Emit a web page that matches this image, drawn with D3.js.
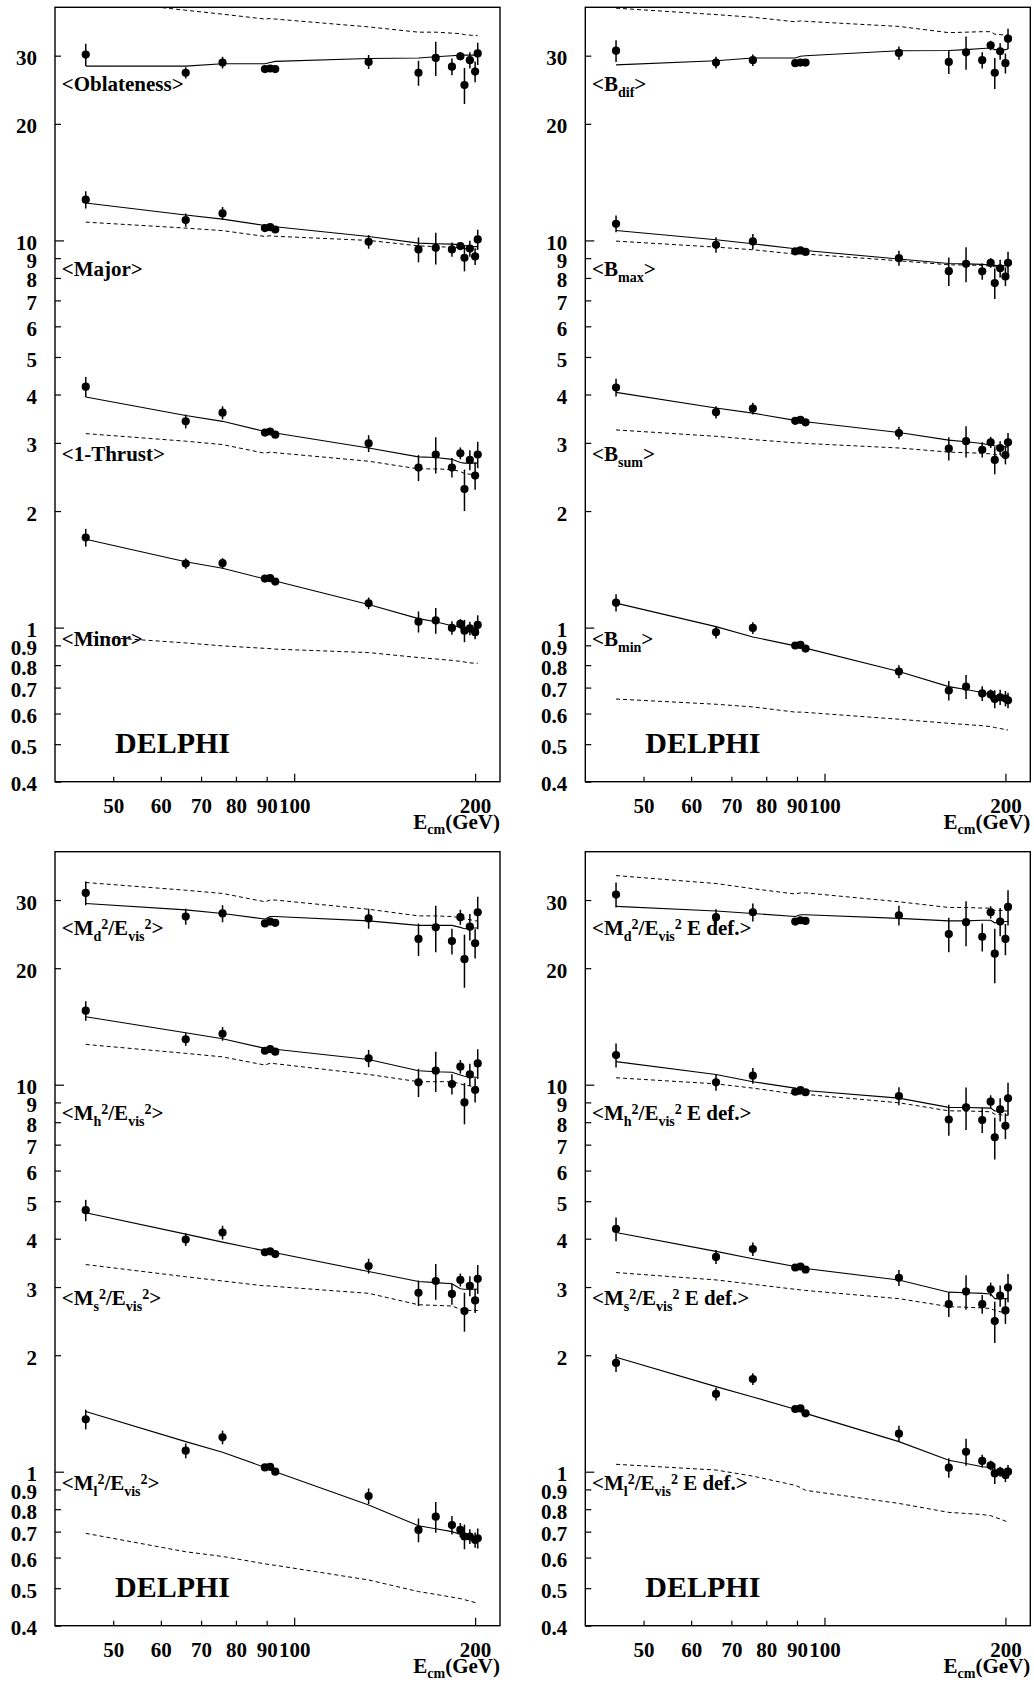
<!DOCTYPE html>
<html><head><meta charset="utf-8">
<script src="https://cdn.jsdelivr.net/npm/d3@7"></script>
<style>
html,body{margin:0;padding:0;background:#fff;}
svg{display:block;}
text{font-family:"Liberation Serif","Times New Roman",serif;font-weight:bold;}
</style></head>
<body>
<svg id="chart" width="1034" height="1682"></svg>
<script>
// ---------------- DATA ----------------
const energies = [45, 66, 76, 89.4, 91.2, 93, 133, 161, 172, 183, 189, 192, 196, 200, 202];
const xTicks = [50, 60, 70, 80, 90, 100, 200];
const xMajor = [100, 200];
const yTicks = [0.4, 0.5, 0.6, 0.7, 0.8, 0.9, 1, 2, 3, 4, 5, 6, 7, 8, 9, 10, 20, 30];
const yMajor = [1, 10];

// <Oblateness>
const oblatenessMean = [30.2, 27.1, 28.8, 27.7, 27.8, 27.7, 28.9, 27.1, 29.6, 28.1, 29.9, 25.2, 29.2, 27.3, 30.4];
const oblatenessErr  = [2.0, 0.9, 1.0, 0.3, 0.3, 0.3, 1.2, 2.0, 3.0, 1.4, 0.7, 2.7, 1.4, 1.7, 2.0];
const oblatenessFit  = [28.2, 28.2, 28.6, 28.6, 28.8, 29.0, 29.5, 29.6, 29.8, 30.0, 30.1, 30.1, 30.1, 30.1, 30.1];
const oblatenessRef  = [42.0, 39.3, 38.4, 37.3, 37.4, 37.3, 35.6, 34.5, 34.5, 34.3, 34.2, 34.0, 33.9, 33.8, 33.8];
// <Major>
const majorMean = [12.74, 11.29, 11.74, 10.76, 10.82, 10.67, 9.92, 9.48, 9.57, 9.48, 9.67, 9.02, 9.53, 9.09, 10.06];
const majorErr  = [0.65, 0.45, 0.45, 0.12, 0.12, 0.12, 0.4, 0.7, 0.9, 0.4, 0.22, 0.7, 0.45, 0.45, 0.6];
const majorFit  = [12.49, 11.63, 11.35, 10.93, 10.90, 10.85, 10.24, 9.84, 9.80, 9.78, 9.74, 9.70, 9.66, 9.64, 9.64];
const majorRef  = [11.15, 10.76, 10.60, 10.24, 10.28, 10.25, 10.0, 9.68, 9.64, 9.60, 9.57, 9.53, 9.50, 9.49, 9.49];
// <1-Thrust>
const thrustMean = [4.19, 3.41, 3.59, 3.19, 3.21, 3.15, 2.99, 2.59, 2.80, 2.59, 2.82, 2.28, 2.71, 2.47, 2.80];
const thrustErr  = [0.25, 0.14, 0.14, 0.04, 0.04, 0.04, 0.15, 0.2, 0.3, 0.15, 0.1, 0.28, 0.16, 0.2, 0.22];
const thrustFit  = [3.94, 3.53, 3.41, 3.21, 3.20, 3.18, 2.91, 2.76, 2.75, 2.72, 2.67, 2.66, 2.66, 2.66, 2.66];
const thrustRef  = [3.17, 3.03, 2.97, 2.82, 2.84, 2.83, 2.69, 2.57, 2.57, 2.56, 2.53, 2.50, 2.49, 2.49, 2.49];
// <Minor>
const minorMean = [1.709, 1.464, 1.467, 1.339, 1.342, 1.315, 1.156, 1.036, 1.044, 0.998, 1.022, 0.982, 0.995, 0.973, 1.016];
const minorErr  = [0.09, 0.045, 0.045, 0.015, 0.015, 0.015, 0.04, 0.065, 0.08, 0.04, 0.03, 0.065, 0.04, 0.04, 0.06];
const minorFit  = [1.692, 1.48, 1.423, 1.335, 1.33, 1.32, 1.148, 1.055, 1.035, 1.011, 1.003, 0.999, 0.997, 0.995, 0.995];
const minorRef  = [0.951, 0.913, 0.897, 0.884, 0.883, 0.880, 0.862, 0.837, 0.830, 0.823, 0.818, 0.815, 0.811, 0.809, 0.809];
// <B_dif>
const bdifMean = [30.9, 28.8, 29.2, 28.7, 28.8, 28.8, 30.5, 28.9, 30.6, 29.2, 31.9, 27.1, 30.8, 28.7, 33.2];
const bdifErr  = [2.0, 1.0, 1.0, 0.3, 0.3, 0.3, 1.2, 2.0, 3.0, 1.4, 0.9, 2.5, 1.5, 1.7, 2.0];
const bdifFit  = [28.4, 29.1, 29.6, 29.6, 29.9, 30.0, 30.9, 30.95, 31.1, 31.3, 31.4, 31.1, 31.1, 31.1, 31.2];
const bdifRef  = [39.8, 38.3, 37.7, 36.7, 36.9, 36.8, 35.7, 34.4, 34.5, 34.6, 34.6, 34.1, 34.0, 33.9, 33.9];
// <B_max>
const bmaxMean = [11.04, 9.74, 9.94, 9.37, 9.42, 9.34, 9.00, 8.33, 8.70, 8.32, 8.75, 7.76, 8.47, 8.07, 8.75];
const bmaxErr  = [0.55, 0.45, 0.45, 0.1, 0.1, 0.1, 0.4, 0.7, 0.9, 0.4, 0.25, 0.7, 0.45, 0.45, 0.6];
const bmaxFit  = [10.61, 10.04, 9.80, 9.52, 9.47, 9.42, 8.95, 8.72, 8.70, 8.67, 8.64, 8.62, 8.60, 8.60, 8.60];
const bmaxRef  = [9.96, 9.61, 9.46, 9.22, 9.24, 9.22, 8.86, 8.65, 8.64, 8.62, 8.58, 8.55, 8.51, 8.49, 8.49];
// <B_sum>
const bsumMean = [4.17, 3.60, 3.68, 3.42, 3.44, 3.39, 3.18, 2.90, 3.03, 2.88, 3.01, 2.71, 2.91, 2.79, 3.01];
const bsumErr  = [0.22, 0.13, 0.13, 0.04, 0.04, 0.04, 0.12, 0.2, 0.28, 0.13, 0.1, 0.22, 0.12, 0.15, 0.17];
const bsumFit  = [4.05, 3.69, 3.58, 3.43, 3.42, 3.40, 3.19, 3.05, 3.02, 2.99, 2.96, 2.95, 2.94, 2.93, 2.93];
const bsumRef  = [3.24, 3.12, 3.06, 3.00, 3.00, 2.99, 2.91, 2.84, 2.83, 2.82, 2.81, 2.80, 2.78, 2.77, 2.77];
// <B_min>
const bminMean = [1.16, 0.973, 0.998, 0.899, 0.902, 0.883, 0.770, 0.688, 0.704, 0.676, 0.672, 0.654, 0.661, 0.656, 0.649];
const bminErr  = [0.06, 0.035, 0.035, 0.012, 0.012, 0.012, 0.03, 0.04, 0.05, 0.03, 0.02, 0.035, 0.03, 0.03, 0.03];
const bminFit  = [1.157, 1.006, 0.946, 0.897, 0.89, 0.885, 0.770, 0.704, 0.692, 0.680, 0.672, 0.666, 0.660, 0.652, 0.648];
const bminRef  = [0.654, 0.634, 0.624, 0.605, 0.605, 0.604, 0.580, 0.566, 0.562, 0.558, 0.555, 0.552, 0.549, 0.545, 0.544];
// <M_d^2/E_vis^2>
const mdMean = [31.3, 27.2, 27.7, 26.1, 26.4, 26.2, 26.9, 23.8, 25.5, 23.5, 27.1, 21.1, 25.6, 23.2, 27.9];
const mdErr  = [2.2, 1.3, 1.4, 0.4, 0.4, 0.4, 1.6, 2.3, 3.5, 1.8, 1.2, 3.3, 2.0, 2.0, 2.7];
const mdFit  = [29.4, 28.3, 27.7, 26.8, 27.2, 27.2, 26.5, 25.8, 25.8, 25.8, 25.5, 25.3, 25.4, 25.4, 25.4];
const mdRef  = [33.3, 31.8, 31.2, 29.7, 30.0, 30.0, 28.4, 27.3, 27.3, 27.2, 27.0, 26.8, 26.7, 26.5, 26.5];
// <M_h^2/E_vis^2>
const mhMean = [15.53, 13.10, 13.54, 12.24, 12.36, 12.17, 11.70, 10.14, 10.87, 10.04, 11.13, 9.00, 10.63, 9.69, 11.35];
const mhErr  = [0.9, 0.5, 0.55, 0.15, 0.15, 0.15, 0.6, 0.85, 1.3, 0.6, 0.45, 1.1, 0.7, 0.7, 1.0];
const mhFit  = [14.98, 13.62, 13.14, 12.41, 12.40, 12.35, 11.62, 10.87, 10.80, 10.77, 10.60, 10.52, 10.48, 10.45, 10.45];
const mhRef  = [12.71, 12.05, 11.80, 11.24, 11.36, 11.33, 10.63, 10.18, 10.18, 10.18, 10.05, 9.98, 9.93, 9.88, 9.88];
// <M_s^2/E_vis^2>
const msMean = [4.74, 3.98, 4.15, 3.69, 3.71, 3.65, 3.40, 2.90, 3.11, 2.88, 3.13, 2.60, 3.02, 2.77, 3.15];
const msErr  = [0.3, 0.15, 0.17, 0.05, 0.05, 0.05, 0.15, 0.22, 0.33, 0.18, 0.12, 0.3, 0.18, 0.2, 0.27];
const msFit  = [4.67, 4.11, 3.92, 3.72, 3.72, 3.68, 3.29, 3.10, 3.08, 3.06, 2.97, 2.96, 2.96, 2.96, 2.96];
const msRef  = [3.43, 3.19, 3.11, 3.02, 3.02, 3.01, 2.89, 2.70, 2.69, 2.68, 2.63, 2.62, 2.61, 2.61, 2.61];
// <M_l^2/E_vis^2>
const mlMean = [1.366, 1.133, 1.227, 1.026, 1.030, 1.0, 0.865, 0.707, 0.765, 0.728, 0.707, 0.680, 0.680, 0.666, 0.673];
const mlErr  = [0.08, 0.05, 0.05, 0.015, 0.015, 0.015, 0.04, 0.05, 0.07, 0.04, 0.03, 0.05, 0.03, 0.03, 0.04];
const mlFit  = [1.43, 1.196, 1.123, 1.026, 1.01, 1.0, 0.820, 0.725, 0.712, 0.70, 0.688, 0.682, 0.677, 0.673, 0.673];
const mlRef  = [0.693, 0.621, 0.604, 0.578, 0.575, 0.573, 0.525, 0.490, 0.482, 0.474, 0.470, 0.467, 0.463, 0.459, 0.459];
// <M_d^2/E_vis^2 E def.>
const mdEMean = [31.0, 27.1, 27.9, 26.4, 26.6, 26.5, 27.4, 24.5, 26.3, 24.1, 27.9, 21.8, 26.4, 23.8, 28.8];
const mdEErr  = [2.3, 1.3, 1.5, 0.4, 0.4, 0.4, 1.6, 2.5, 3.5, 2.0, 1.0, 3.5, 2.2, 2.2, 3.0];
const mdEFit  = [28.9, 28.1, 27.7, 27.2, 27.5, 27.5, 26.9, 26.5, 26.5, 26.6, 26.6, 26.2, 26.3, 26.4, 26.4];
const mdERef  = [34.7, 33.1, 32.1, 31.1, 31.3, 31.3, 29.7, 28.7, 28.7, 28.6, 28.6, 28.2, 28.2, 28.2, 28.2];
// <M_h^2/E_vis^2 E def.>
const mhEMean = [11.93, 10.14, 10.55, 9.59, 9.68, 9.56, 9.35, 8.13, 8.74, 8.10, 9.04, 7.31, 8.63, 7.83, 9.22];
const mhEErr  = [0.85, 0.5, 0.5, 0.12, 0.12, 0.12, 0.5, 0.75, 1.1, 0.6, 0.35, 0.9, 0.6, 0.6, 0.9];
const mhEFit  = [11.47, 10.63, 10.18, 9.80, 9.68, 9.66, 9.23, 8.74, 8.73, 8.71, 8.70, 8.55, 8.55, 8.55, 8.55];
const mhERef  = [10.42, 10.05, 9.80, 9.46, 9.45, 9.44, 8.98, 8.56, 8.55, 8.53, 8.51, 8.39, 8.36, 8.34, 8.34];
// <M_s^2/E_vis^2 E def.>
const msEMean = [4.24, 3.59, 3.76, 3.37, 3.39, 3.33, 3.17, 2.71, 2.92, 2.71, 2.96, 2.45, 2.85, 2.61, 2.99];
const msEErr  = [0.3, 0.15, 0.15, 0.05, 0.05, 0.05, 0.15, 0.2, 0.3, 0.15, 0.12, 0.3, 0.18, 0.2, 0.25];
const msEFit  = [4.15, 3.71, 3.55, 3.39, 3.37, 3.35, 3.13, 2.91, 2.90, 2.89, 2.88, 2.80, 2.80, 2.80, 2.80];
const msERef  = [3.27, 3.13, 3.05, 2.96, 2.95, 2.94, 2.80, 2.67, 2.66, 2.65, 2.64, 2.61, 2.59, 2.58, 2.58];
// <M_l^2/E_vis^2 E def.>
const mlEMean = [1.91, 1.588, 1.736, 1.452, 1.457, 1.415, 1.254, 1.024, 1.126, 1.066, 1.038, 0.990, 1.0, 0.98, 1.0];
const mlEErr  = [0.1, 0.06, 0.06, 0.02, 0.02, 0.02, 0.06, 0.06, 0.09, 0.04, 0.03, 0.06, 0.03, 0.04, 0.04];
const mlEFit  = [1.975, 1.659, 1.56, 1.45, 1.43, 1.415, 1.196, 1.07, 1.05, 1.03, 1.025, 1.005, 1.002, 1.0, 1.0];
const mlERef  = [1.045, 1.01, 0.974, 0.922, 0.91, 0.895, 0.828, 0.785, 0.78, 0.775, 0.77, 0.762, 0.755, 0.745, 0.740];

// labels (text segments; s = sub / sup)
const L = (t, s) => ({t, s});
const mdLabel = [L("<M"), L("d","sub"), L("2","sup"), L("/E"), L("vis","sub"), L("2","sup")];
const mhLabel = [L("<M"), L("h","sub"), L("2","sup"), L("/E"), L("vis","sub"), L("2","sup")];
const msLabel = [L("<M"), L("s","sub"), L("2","sup"), L("/E"), L("vis","sub"), L("2","sup")];
const mlLabel = [L("<M"), L("l","sub"), L("2","sup"), L("/E"), L("vis","sub"), L("2","sup")];

const panels = [
  {col:0, row:0, series:[
    {label:[L("<Oblateness>")], mean:oblatenessMean, err:oblatenessErr, fit:oblatenessFit, ref:oblatenessRef},
    {label:[L("<Major>")], mean:majorMean, err:majorErr, fit:majorFit, ref:majorRef},
    {label:[L("<1-Thrust>")], mean:thrustMean, err:thrustErr, fit:thrustFit, ref:thrustRef},
    {label:[L("<Minor>")], mean:minorMean, err:minorErr, fit:minorFit, ref:minorRef}]},
  {col:1, row:0, series:[
    {label:[L("<B"), L("dif","sub"), L(">")], mean:bdifMean, err:bdifErr, fit:bdifFit, ref:bdifRef},
    {label:[L("<B"), L("max","sub"), L(">")], mean:bmaxMean, err:bmaxErr, fit:bmaxFit, ref:bmaxRef},
    {label:[L("<B"), L("sum","sub"), L(">")], mean:bsumMean, err:bsumErr, fit:bsumFit, ref:bsumRef},
    {label:[L("<B"), L("min","sub"), L(">")], mean:bminMean, err:bminErr, fit:bminFit, ref:bminRef}]},
  {col:0, row:1, series:[
    {label:[...mdLabel, L(">")], mean:mdMean, err:mdErr, fit:mdFit, ref:mdRef},
    {label:[...mhLabel, L(">")], mean:mhMean, err:mhErr, fit:mhFit, ref:mhRef},
    {label:[...msLabel, L(">")], mean:msMean, err:msErr, fit:msFit, ref:msRef},
    {label:[...mlLabel, L(">")], mean:mlMean, err:mlErr, fit:mlFit, ref:mlRef}]},
  {col:1, row:1, series:[
    {label:[...mdLabel, L(" E def.>")], mean:mdEMean, err:mdEErr, fit:mdEFit, ref:mdERef},
    {label:[...mhLabel, L(" E def.>")], mean:mhEMean, err:mhEErr, fit:mhEFit, ref:mhERef},
    {label:[...msLabel, L(" E def.>")], mean:msEMean, err:msEErr, fit:msEFit, ref:msERef},
    {label:[...mlLabel, L(" E def.>")], mean:mlEMean, err:mlEErr, fit:mlEFit, ref:mlERef}]}
];

// ---------------- LAYOUT ----------------
const colX = [[55, 500], [585.3, 1030.3]];
const rowY = [[7.3, 781.7], [851.7, 1625.7]];
const labelOffsets = [83.4, 268.7, 453.7, 638.4];
const FONT = '"Liberation Serif","Times New Roman",serif';

const svg = d3.select("#chart");

function drawLabel(g, x, y, segs, size) {
  const t = g.append("text").attr("x", x).attr("y", y)
    .style("font-size", size + "px").style("white-space", "pre");
  let cur = 0;
  segs.forEach(s => {
    const off = s.s === "sub" ? 6 : (s.s === "sup" ? -6 : 0);
    t.append("tspan").attr("dy", off - cur)
      .style("font-size", (s.s ? 14 : size) + "px").text(s.t);
    cur = off;
  });
}

panels.forEach((p, pi) => {
  const [x0, x1] = colX[p.col];
  const [y0, y1] = rowY[p.row];
  const x = d3.scaleLog().domain([40, 220]).range([x0, x1]);
  const y = d3.scaleLog().domain([0.4, 40]).range([y1, y0]);
  const g = svg.append("g");

  const clipId = "clip" + pi;
  g.append("clipPath").attr("id", clipId).append("rect")
    .attr("x", x0).attr("y", y0).attr("width", x1 - x0).attr("height", y1 - y0);

  // y axis
  const ya = g.append("g").attr("transform", `translate(${x0},0)`)
    .call(d3.axisLeft(y).tickValues(yTicks).tickFormat(d => String(d))
      .tickSize(-6).tickSizeOuter(0).tickPadding(18));
  ya.select(".domain").remove();
  ya.attr("font-size", 21).attr("font-family", FONT).attr("font-weight", "bold");
  ya.selectAll(".tick line").attr("x2", d => yMajor.includes(d) ? 9 : 6).attr("stroke-width", 1.2);
  ya.selectAll(".tick text").attr("dy", "0.43em").attr("fill", "#000");

  // x axis
  const xa = g.append("g").attr("transform", `translate(0,${y1})`)
    .call(d3.axisBottom(x).tickValues(xTicks).tickFormat(d => String(d))
      .tickSize(-5).tickSizeOuter(0).tickPadding(16));
  xa.select(".domain").remove();
  xa.attr("font-size", 21).attr("font-family", FONT).attr("font-weight", "bold");
  xa.selectAll(".tick line").attr("y2", d => xMajor.includes(d) ? -8 : -5).attr("stroke-width", 1.2);
  xa.selectAll(".tick text").attr("fill", "#000");

  // frame
  g.append("rect").attr("x", x0).attr("y", y0).attr("width", x1 - x0).attr("height", y1 - y0)
    .attr("fill", "none").attr("stroke", "#000").attr("stroke-width", 1.4);

  // axis title
  const at = g.append("text").attr("x", x1).attr("y", y1 + 47.5).attr("text-anchor", "end")
    .style("font-size", "21px");
  at.append("tspan").text("E");
  at.append("tspan").attr("dy", 5).style("font-size", "14px").text("cm");
  at.append("tspan").attr("dy", -5).text("(GeV)");

  const plot = g.append("g").attr("clip-path", `url(#${clipId})`);
  const line = d3.line().x(d => x(d.e)).y(d => y(d.v));

  p.series.forEach((s, si) => {
    const fitPts = energies.map((e, i) => ({e, v: s.fit[i]}));
    const refPts = energies.map((e, i) => ({e, v: s.ref[i]}));
    plot.append("path").datum(refPts).attr("d", line).attr("fill", "none")
      .attr("stroke", "#000").attr("stroke-width", 1).attr("stroke-dasharray", "4,3");
    plot.append("path").datum(fitPts).attr("d", line).attr("fill", "none")
      .attr("stroke", "#000").attr("stroke-width", 1.1);
    const pts = energies.map((e, i) => ({e, v: s.mean[i], err: s.err[i]}));
    plot.selectAll(null).data(pts).enter().append("line")
      .attr("x1", d => x(d.e)).attr("x2", d => x(d.e))
      .attr("y1", d => y(d.v + d.err)).attr("y2", d => y(d.v - d.err))
      .attr("stroke", "#000").attr("stroke-width", 1.5);
    plot.selectAll(null).data(pts).enter().append("circle")
      .attr("cx", d => x(d.e)).attr("cy", d => y(d.v)).attr("r", 4.1).attr("fill", "#000");
    drawLabel(g, x0 + 6.7, y0 + labelOffsets[si], s.label, 21);
  });

  g.append("text").attr("x", x0 + 60).attr("y", y0 + 745.4)
    .style("font-size", "30px").text("DELPHI");
});
</script>
</body></html>
